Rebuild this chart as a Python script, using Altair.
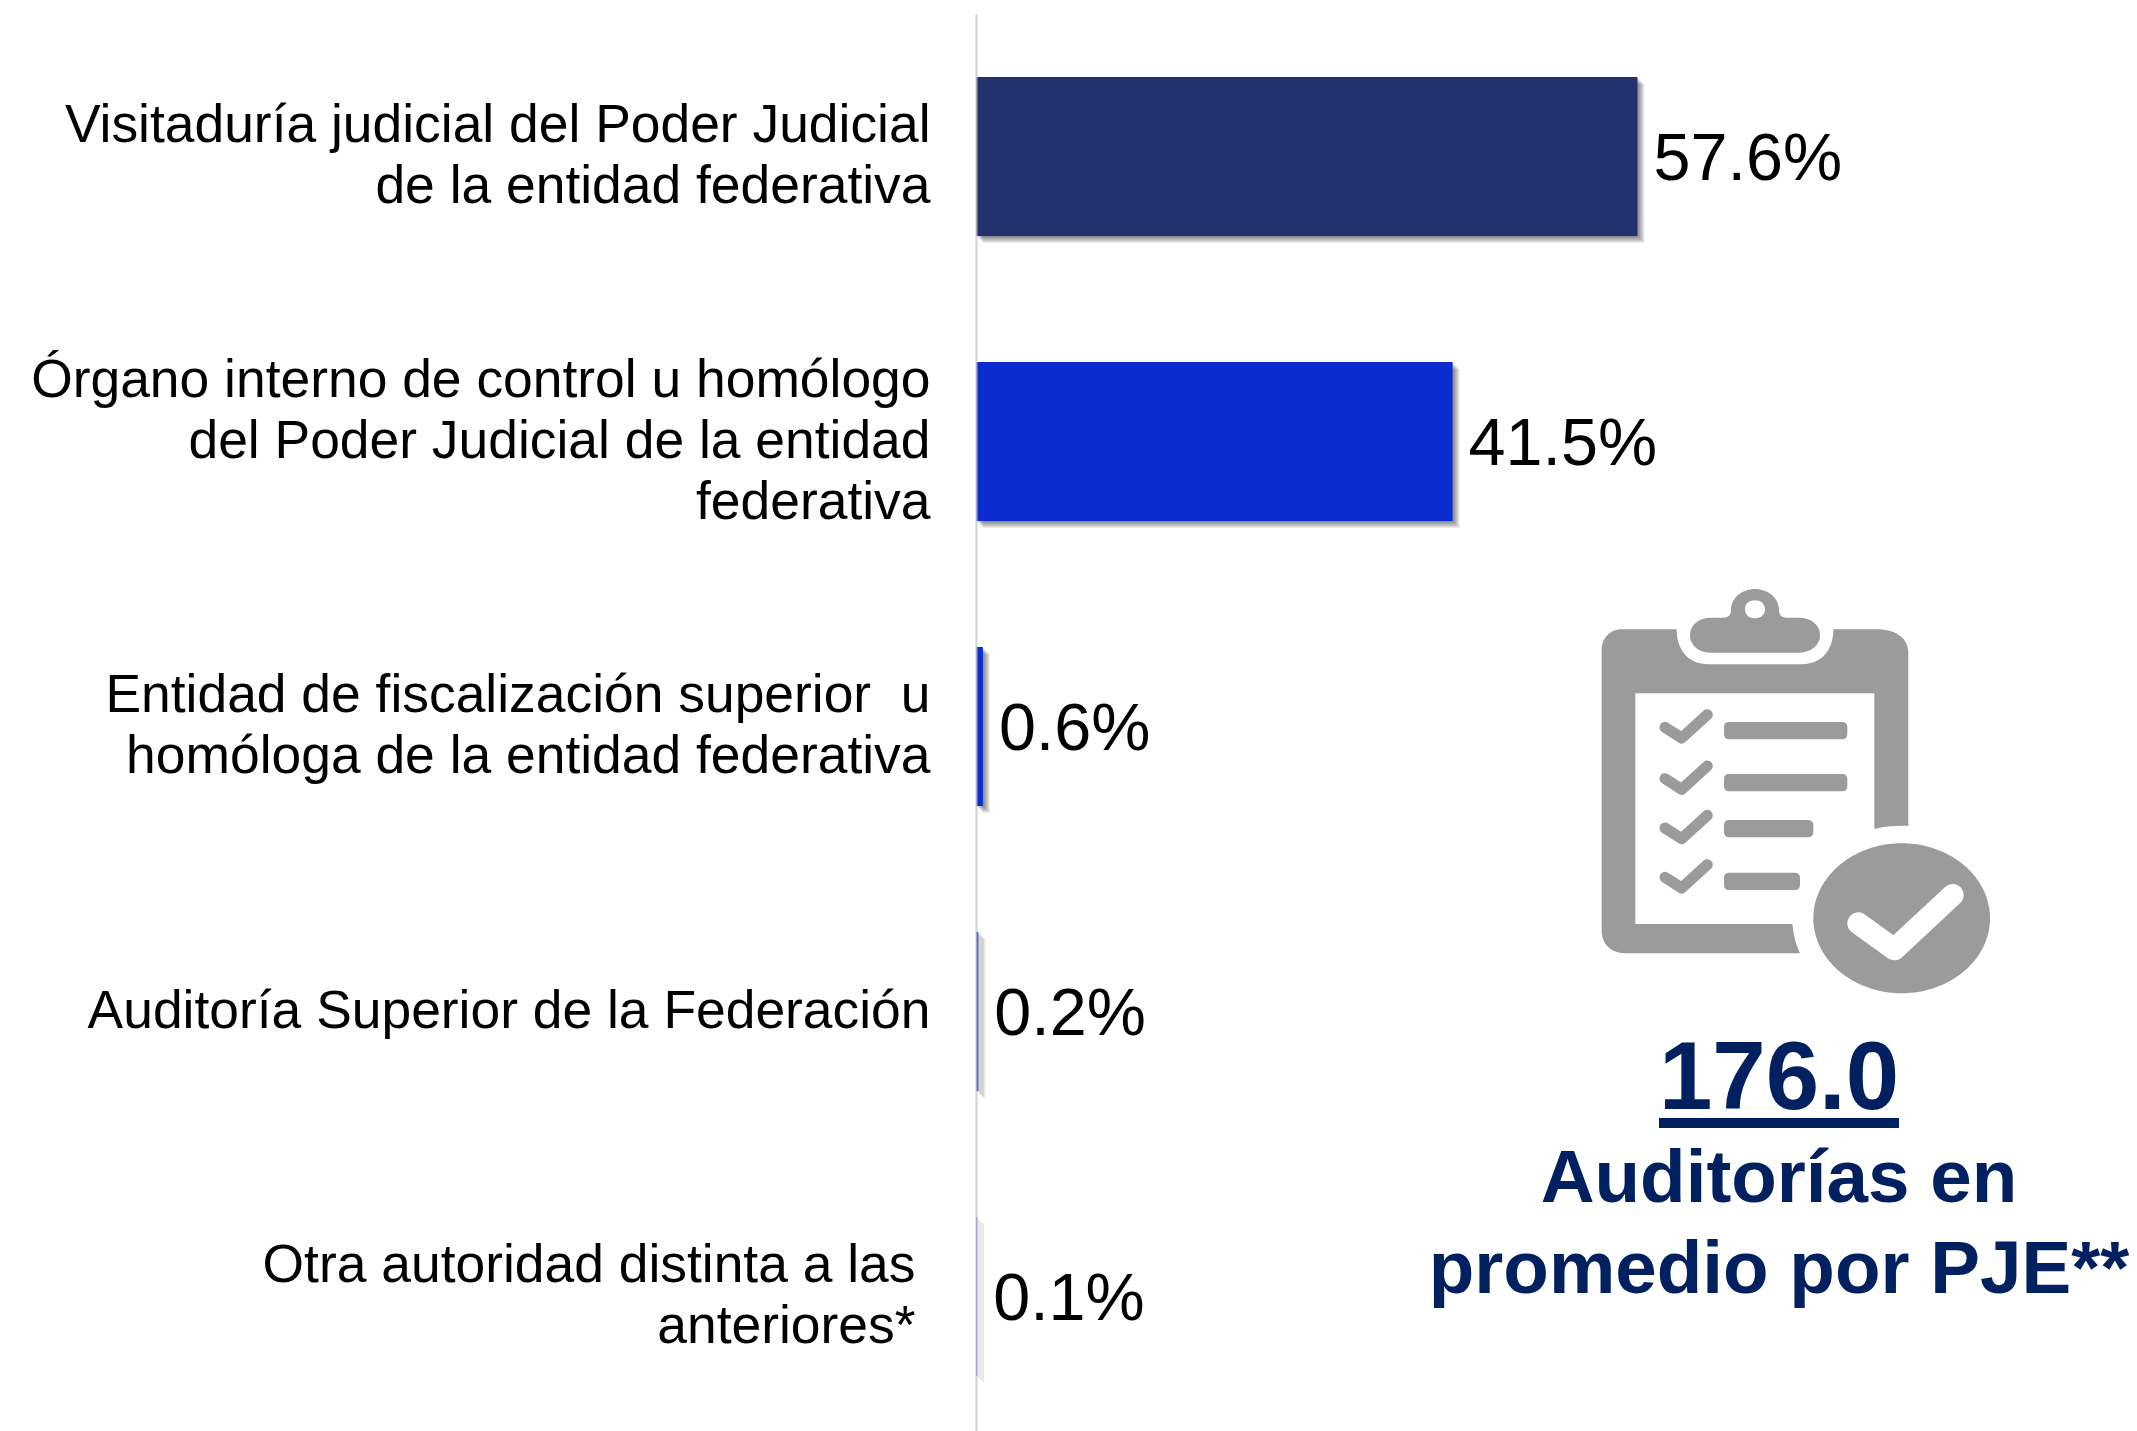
import altair as alt
import pandas as pd

categories = [
    "Visitaduría judicial del Poder Judicial|de la entidad federativa",
    "Órgano interno de control u homólogo|del Poder Judicial de la entidad|federativa",
    "Entidad de fiscalización superior\u00a0 u|homóloga de la entidad federativa",
    "Auditoría Superior de la Federación",
    "Otra autoridad distinta a las|anteriores*",
]
values = [57.6, 41.5, 0.6, 0.2, 0.1]
value_labels = ["57.6%", "41.5%", "0.6%", "0.2%", "0.1%"]
bar_colors = ["#21316E", "#0B2DD0", "#0B2DD0", "#0B2DD0", "#0B2DD0"]

NAVY = "#002060"
GREY = "#9B9B9B"
FONT = "Liberation Sans"

df = pd.DataFrame({"cat": categories, "val": values, "lab": value_labels})
one = pd.DataFrame({"a": [0]})

x_scale = alt.Scale(domain=[0, 100.4], nice=False, zero=True)
y_scale = alt.Scale(domain=categories, paddingInner=0.442, paddingOuter=0.207, align=0.534)

x_enc = alt.X("val:Q", scale=x_scale, axis=None)
y_enc = alt.Y(
    "cat:N",
    sort=categories,
    scale=y_scale,
    title=None,
    axis=alt.Axis(
        orient="left",
        ticks=False,
        grid=False,
        domain=True,
        domainColor="#C8C8C8",
        domainOpacity=0.8,
        domainWidth=2,
        labelPadding={"condition": {"test": "indexof(datum.label, 'anteriores') >= 0", "value": 61}, "value": 46},
        labelOffset={
            "condition": [
                {"test": "length(split(datum.label, '|')) == 3", "value": -61},
                {"test": "length(split(datum.label, '|')) == 2", "value": -30.5},
            ],
            "value": 0,
        },
        labelFont=FONT,
        labelFontSize=53.4,
        labelColor="#000000",
        labelLimit=0,
        labelLineHeight=61,
        labelAlign="right",
        labelBaseline="middle",
        labelExpr="split(datum.label, '|')",
        zindex=1,
    ),
)

layers = []
for off in [1, 2, 3, 4, 5, 6, 7]:
    layers.append(
        alt.Chart(df)
        .mark_bar(
            color="#000000",
            opacity=0.08,
            xOffset=off,
            x2Offset=off,
            yOffset=off,
            y2Offset=off,
        )
        .encode(x=x_enc, y=y_enc)
    )

bars = (
    alt.Chart(df)
    .mark_bar()
    .encode(
        x=x_enc,
        y=y_enc,
        color=alt.Color("cat:N", scale=alt.Scale(domain=categories, range=bar_colors), legend=None),
    )
)
labels = (
    alt.Chart(df)
    .mark_text(align="left", baseline="middle", dx=16, dy=3, font=FONT, fontSize=66.5, color="#000000")
    .encode(x=x_enc, y=y_enc, text="lab:N")
)


# Icon outlines, in units of a 3x view of the icon; anchored at the icon's corner.
ICON_X, ICON_Y = 584, 556
ICON_SIZE = (2 / 3) ** 2


def rounded(x0, y0, x1, y1, r):
    return (
        f"M {x0 + r} {y0} L {x1 - r} {y0} Q {x1} {y0} {x1} {y0 + r} L {x1} {y1 - r} "
        f"Q {x1} {y1} {x1 - r} {y1} L {x0 + r} {y1} Q {x0} {y1} {x0} {y1 - r} "
        f"L {x0} {y0 + r} Q {x0} {y0} {x0 + r} {y0} Z"
    )


def icon_fill(path, color=GREY):
    return (
        alt.Chart(one)
        .mark_point(shape=path, filled=True, fill=color, stroke=None, size=ICON_SIZE, opacity=1)
        .encode(x=alt.value(ICON_X), y=alt.value(ICON_Y))
    )


def icon_stroke(path, width, color=GREY):
    return (
        alt.Chart(one)
        .mark_point(
            shape=path,
            filled=False,
            stroke=color,
            strokeWidth=width,
            strokeCap="round",
            strokeJoin="round",
            size=ICON_SIZE,
            opacity=1,
        )
        .encode(x=alt.value(ICON_X), y=alt.value(ICON_Y))
    )


BOARD = (
    "M 185 178 L 350 178 C 350 240 385 283 445 283 L 725 283 C 785 283 820 240 820 178 "
    "L 950 178 C 1010 178 1045 205 1045 250 L 1045 768 C 1010 766 975 770 943 777 "
    "L 943 370 L 226 370 L 226 1062 L 697 1062 C 700 1095 708 1125 720 1150 L 200 1150 "
    "C 155 1150 125 1125 125 1080 L 125 240 C 125 205 150 178 185 178 Z"
)
CLIP = (
    "M 455 143 L 490 143 C 505 143 513 135 513 120 C 513 85 545 57 585 57 "
    "C 625 57 657 85 657 120 C 657 135 665 143 680 143 L 715 143 C 755 143 780 165 780 195 "
    "C 780 225 755 248 715 248 L 450 248 C 415 248 390 225 390 195 C 390 165 415 143 455 143 Z "
    "M 555 118 C 555 135 568 145 585 145 C 602 145 615 135 615 118 "
    "C 615 101 602 91 585 91 C 568 91 555 101 555 118 Z"
)
BADGE = (
    "M 760 1045 C 760 921 879 820 1025 820 C 1171 820 1290 921 1290 1045 "
    "C 1290 1169 1171 1270 1025 1270 C 879 1270 760 1169 760 1045 Z"
)
BADGE_TICK = "M 895 1060 L 1003 1138 L 1178 975"

icon = [icon_fill(BOARD), icon_fill(CLIP), icon_fill(BADGE), icon_stroke(BADGE_TICK, 22, "#FFFFFF")]
for dy in [0, 154, 302, 450]:
    icon.append(icon_stroke(f"M 315 {472 + dy} L 365 {504 + dy} L 442 {434 + dy}", 11))
for x1, y0 in [(862, 456), (862, 612), (760, 750), (720, 908)]:
    icon.append(icon_fill(rounded(492, y0, x1, y0 + 52, 16)))


def caption(text, y, size):
    return (
        alt.Chart(one)
        .mark_text(
            text=text,
            align="center",
            baseline="alphabetic",
            font=FONT,
            fontWeight="bold",
            fontSize=size,
            color=NAVY,
        )
        .encode(x=alt.value(803), y=alt.value(y))
    )


underline = (
    alt.Chart(one)
    .mark_rule(color=NAVY, strokeWidth=10)
    .encode(x=alt.value(683), x2=alt.value(923), y=alt.value(1109))
)

chart = (
    alt.layer(
        *layers,
        bars,
        labels,
        *icon,
        caption("176.0", 1095, 96),
        underline,
        caption("Auditorías en", 1188, 74.6),
        caption("promedio por PJE**", 1279, 74.6),
    )
    .properties(
        width=1153,
        height=1417,
        padding={"left": 968, "top": 6, "right": 0, "bottom": 0},
        autosize=alt.AutoSizeParams(type="none"),
        background="#FFFFFF",
    )
    .configure_view(stroke=None)
)

chart.save("out.html", embed_options={"renderer": "svg", "actions": False})
